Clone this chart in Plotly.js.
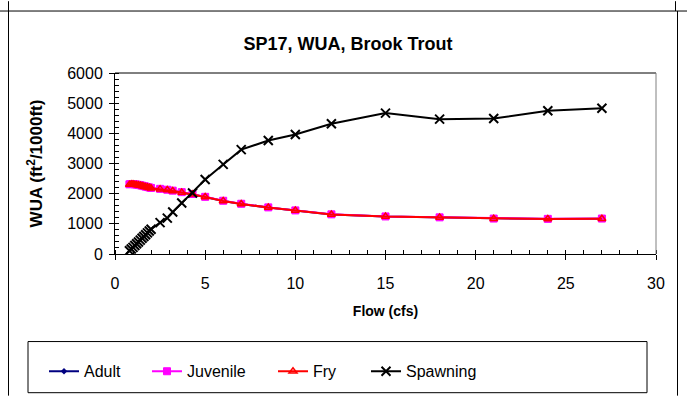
<!DOCTYPE html>
<html>
<head>
<meta charset="utf-8">
<script src="https://cdn.plot.ly/plotly-3.0.1.min.js"></script>
<style>html,body{margin:0;padding:0;background:#fff;}#chart{width:687px;height:401px;}</style>
</head>
<body>
<div id="chart"></div>
<script>
var flow = [0.8,0.9,1.0,1.1,1.2,1.3,1.4,1.5,1.6,1.7,1.8,1.9,2.0,2.5,2.9,3.2,3.7,4.3,5,6,7,8.5,10,12,15,18,21,24,27];
var adult    = [2300,2310,2310,2300,2290,2280,2270,2255,2240,2225,2210,2195,2180,2150,2120,2090,2040,1980,1890,1760,1660,1540,1440,1310,1240,1210,1170,1160,1170];
var juvenile = [2310,2320,2320,2310,2300,2290,2280,2265,2250,2235,2220,2205,2190,2160,2130,2100,2050,1990,1895,1765,1665,1545,1445,1315,1245,1215,1175,1165,1175];
var fry      = [2300,2310,2310,2300,2290,2280,2270,2255,2240,2225,2210,2195,2180,2150,2120,2090,2040,1980,1890,1760,1660,1540,1440,1310,1240,1210,1170,1160,1170];
var spawning = [110,165,220,280,340,400,460,520,580,640,700,760,820,1040,1190,1390,1690,2020,2470,2970,3460,3760,3960,4320,4670,4470,4490,4750,4830];

var FONT = 'Liberation Sans, Arial, sans-serif';

var traces = [
  {x: flow, y: adult, name: 'Adult', mode: 'lines+markers', legend: 'legend',
   line: {color: '#000080', width: 2}, marker: {symbol: 'diamond', size: 5, color: '#000080'}},
  {x: flow, y: juvenile, name: 'Juvenile', mode: 'lines+markers', legend: 'legend2',
   line: {color: '#FF00FF', width: 2}, marker: {symbol: 'square', size: 7, color: '#FF00FF', line: {color: '#FF00FF', width: 1}}},
  {x: flow, y: fry, name: 'Fry', mode: 'lines+markers', legend: 'legend3',
   line: {color: '#FF0000', width: 2}, marker: {symbol: 'triangle-up-open', size: 7, color: '#FF0000', line: {width: 1.5}}},
  {x: flow, y: spawning, name: 'Spawning', mode: 'lines+markers', legend: 'legend4',
   line: {color: '#000000', width: 2}, marker: {symbol: 'x-thin-open', size: 9, color: '#000000', line: {color: '#000000', width: 2}}}
];

function px2x(px){ return (px - 115) / 541; }
function py2y(py){ return (257 - py) / 184; }

function leg(xpx){
  return {x: px2x(xpx), xanchor: 'left', y: py2y(359), yanchor: 'top', orientation: 'h',
          bgcolor: 'rgba(0,0,0,0)', borderwidth: 0, font: {family: FONT, size: 16, color: '#000'}};
}

var layout = {
  width: 687, height: 401,
  margin: {l: 115, r: 31, t: 73, b: 144},
  paper_bgcolor: '#fff', plot_bgcolor: '#fff',
  font: {family: FONT, size: 16, color: '#000'},
  title: {text: '<b>SP17, WUA, Brook Trout</b>', font: {family: FONT, size: 18, color: '#000'},
          x: 348/687, xanchor: 'center', xref: 'container', y: 1 - 44/401, yanchor: 'middle'},
  xaxis: {range: [0, 30], dtick: 5, tick0: 0, ticks: 'outside', ticklen: 5, tickcolor: '#000',
          showline: true, linecolor: '#000', linewidth: 1, showgrid: false, zeroline: false,
          minor: {dtick: 1, ticks: 'inside', ticklen: 4, tickcolor: '#000', showgrid: false},
          tickfont: {family: FONT, size: 16}, ticklabelstandoff: 10,
          title: {text: '<b>Flow (cfs)</b>', font: {family: FONT, size: 14}, standoff: 14}},
  yaxis: {range: [0, 6000], dtick: 1000, tick0: 0, ticks: 'outside', ticklen: 5, tickcolor: '#000',
          showline: true, linecolor: '#000', linewidth: 1, showgrid: false, zeroline: false,
          minor: {dtick: 200, ticks: 'inside', ticklen: 4, tickcolor: '#000', showgrid: false},
          tickfont: {family: FONT, size: 16}, ticklabelstandoff: 3,
          title: {text: '<b>WUA (ft<sup>2</sup>/1000ft)</b>', font: {family: FONT, size: 17}, standoff: 20}},
  legend: leg(44), legend2: leg(147), legend3: leg(273), legend4: leg(366),
  shapes: [
    {type: 'line', xref: 'paper', yref: 'paper', x0: 0, x1: 1, y0: 1, y1: 1, line: {color: '#000', width: 1}},
    {type: 'line', xref: 'paper', yref: 'paper', x0: 1, x1: 1, y0: 0, y1: 1, line: {color: '#808080', width: 1}},
    {type: 'rect', xref: 'paper', yref: 'paper', x0: px2x(28), x1: px2x(647), y0: py2y(398), y1: py2y(346), line: {color: '#000', width: 1}},
    {type: 'line', xref: 'paper', yref: 'paper', x0: px2x(0), x1: px2x(687), y0: py2y(10), y1: py2y(10), line: {color: '#000', width: 1}},
    {type: 'line', xref: 'paper', yref: 'paper', x0: px2x(8.5), x1: px2x(8.5), y0: py2y(0), y1: py2y(401), line: {color: '#000', width: 1}},
    {type: 'line', xref: 'paper', yref: 'paper', x0: px2x(677.5), x1: px2x(677.5), y0: py2y(10), y1: py2y(401), line: {color: '#000', width: 1}},
    {type: 'line', xref: 'paper', yref: 'paper', x0: px2x(675.5), x1: px2x(675.5), y0: py2y(0), y1: py2y(10), line: {color: '#000', width: 1}}
  ],
  showlegend: true
};

Plotly.newPlot('chart', traces, layout, {displayModeBar: false, staticPlot: true});
</script>
</body>
</html>
